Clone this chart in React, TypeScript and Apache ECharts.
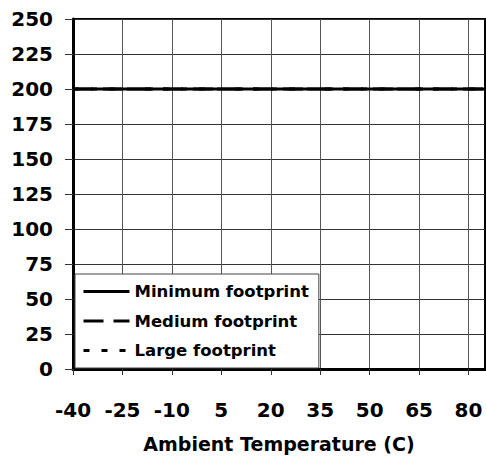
import React, { useEffect, useRef } from "react";
import * as echarts from "echarts";

const xTicks = [-40, -25, -10, 5, 20, 35, 50, 65, 80];
const xValues = [-40, 85];
const minimumFootprint = [200, 200];
const mediumFootprint = [200, 200];
const largeFootprint = [200, 200];
const seriesNames = ["Minimum footprint", "Medium footprint", "Large footprint"];

const FONT = "DejaVu Sans, Verdana, sans-serif";

export default function App() {
  const ref = useRef<HTMLDivElement>(null);
  useEffect(() => {
    if (!ref.current) return;
    const chart = echarts.init(ref.current, undefined, { renderer: "svg" });
    const mk = (vals: number[]) => xValues.map((x, i) => [x, vals[i]]);
    chart.setOption({
      animation: false,
      grid: {
        left: 73,
        right: 1,
        top: 19,
        bottom: 90,
        show: true,
        borderColor: "#000",
        borderWidth: 2,
        backgroundColor: "#fff",
      },
      legend: {
        orient: "vertical",
        left: 75,
        bottom: 91,
        width: 239,
        padding: [9, 10, 9, 7],
        itemGap: 12.5,
        itemWidth: 46,
        itemHeight: 17,
        backgroundColor: "#fff",
        borderColor: "#444",
        borderWidth: 1,
        data: seriesNames,
        itemStyle: { color: "rgba(0,0,0,0)", borderColor: "rgba(0,0,0,0)", borderWidth: 0 },
        lineStyle: { width: 3 },
        textStyle: { fontFamily: FONT, fontWeight: "bold", fontSize: 16.5, color: "#000" },
      },
      xAxis: {
        type: "value",
        min: -40,
        max: 85,
        interval: 15,
        name: "Ambient Temperature (C)",
        nameLocation: "middle",
        nameGap: 65,
        nameTextStyle: { fontFamily: FONT, fontWeight: "bold", fontSize: 19, color: "#000" },
        axisLine: { show: true, onZero: false, lineStyle: { color: "#000", width: 3 } },
        axisTick: { show: true, length: 6, lineStyle: { color: "#333", width: 1 }, customValues: xTicks },
        axisLabel: {
          margin: 31,
          fontFamily: FONT,
          fontWeight: "bold",
          fontSize: 20,
          color: "#000",
          customValues: xTicks,
        },
        splitLine: { show: true, lineStyle: { color: "#555", width: 1 } },
      },
      yAxis: {
        type: "value",
        min: 0,
        max: 250,
        interval: 25,
        axisLine: { show: true, onZero: false, lineStyle: { color: "#000", width: 3 } },
        axisTick: { show: true, length: 8, lineStyle: { color: "#333", width: 1 } },
        axisLabel: {
          margin: 20,
          fontFamily: FONT,
          fontWeight: "bold",
          fontSize: 20,
          color: "#000",
        },
        splitLine: { show: true, lineStyle: { color: "#333", width: 1 } },
      },
      series: [
        {
          name: seriesNames[0],
          type: "line",
          symbol: "none",
          data: mk(minimumFootprint),
          lineStyle: { color: "#000", width: 3, type: "solid" },
          itemStyle: { color: "#000" },
          z: 5,
        },
        {
          name: seriesNames[1],
          type: "line",
          symbol: "none",
          data: mk(mediumFootprint),
          lineStyle: { color: "#000", width: 3, type: [20, 10] },
          itemStyle: { color: "#000" },
          z: 4,
        },
        {
          name: seriesNames[2],
          type: "line",
          symbol: "none",
          data: mk(largeFootprint),
          lineStyle: { color: "#000", width: 3, type: [6, 12] },
          itemStyle: { color: "#000" },
          z: 3,
        },
      ],
    });
    return () => chart.dispose();
  }, []);
  return <div ref={ref} style={{ width: 486, height: 459, position: "absolute", left: 0, top: 0, background: "#fff" }} />;
}
